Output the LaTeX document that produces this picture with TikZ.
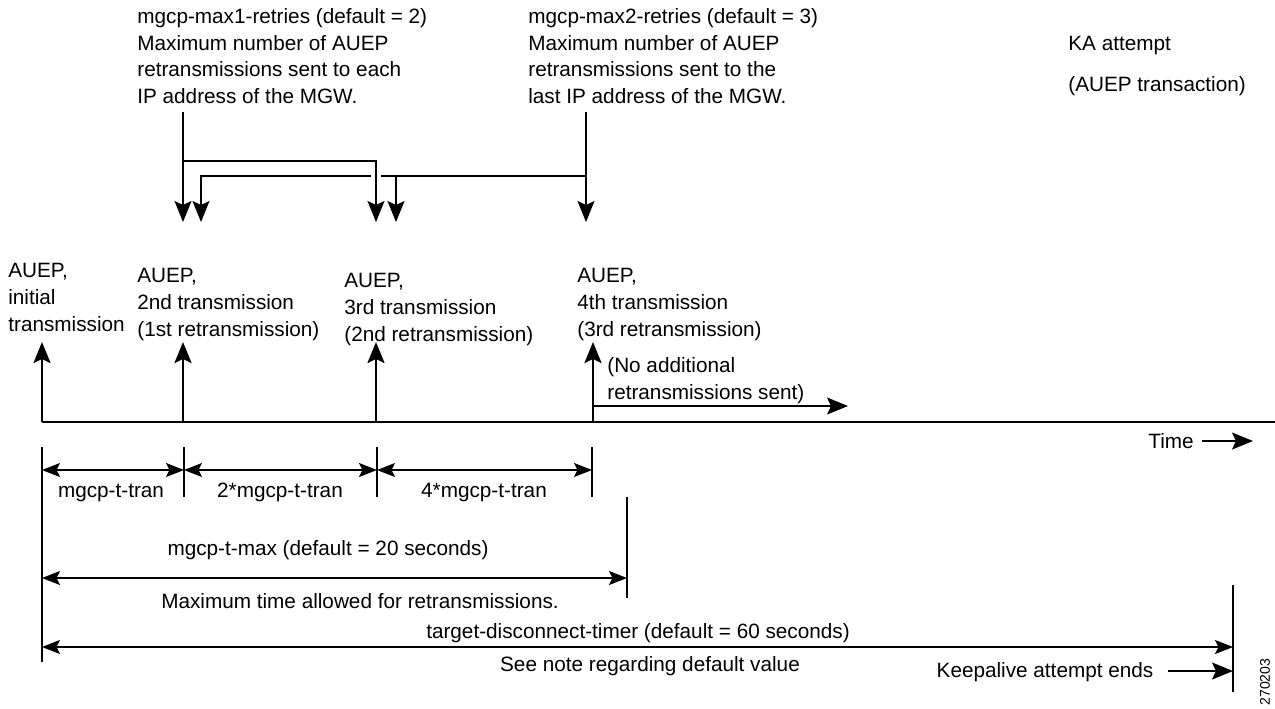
\documentclass[tikz,border=0pt]{standalone}
\usepackage{fontspec}
\setmainfont{Liberation Sans}
\usetikzlibrary{arrows.meta}

\begin{document}
\begin{tikzpicture}[x=0.02cm,y=-0.02cm,
    txt/.style={font=\fontsize{11.8}{15.2}\selectfont,inner sep=0pt},
    blk/.style={txt,align=left,anchor=north west},
    lab/.style={txt,anchor=base},
    tip/.style={-{Stealth[length=0.42cm,width=0.34cm,inset=0.08cm]}},
    dim/.style={{Stealth[length=0.36cm,width=0.28cm,inset=0.07cm]}-{Stealth[length=0.36cm,width=0.28cm,inset=0.07cm]},line width=0.8pt},
    thk/.style={line width=1.3pt},
    thn/.style={line width=0.8pt}]
  \useasboundingbox (0,0) rectangle (1275,708);

  \node[blk] (max1) at (137,8) {mgcp-max1-retries (default = 2)\\Maximum number of AUEP\\retransmissions sent to each\\IP address of the MGW.};
  \node[blk] (max2) at (528,8) {mgcp-max2-retries (default = 3)\\Maximum number of AUEP\\retransmissions sent to the\\last IP address of the MGW.};
  \node[blk] (ka) at (1068,36) {KA attempt\\[8pt](AUEP transaction)};

  \coordinate (r1) at (183,112);
  \coordinate (r2) at (586,112);
  \coordinate (j1) at (183,161);
  \coordinate (k1) at (376,161);
  \coordinate (j2) at (586,176);
  \coordinate (g1) at (381,176);
  \coordinate (g2) at (371,176);
  \coordinate (k2) at (201,176);
  \coordinate (k3) at (396,176);
  \draw[thn,tip] (r1) -- (183,222);
  \draw[thn,tip] (j1) -- (k1) -- (376,222);
  \draw[thn,tip] (r2) -- (586,222);
  \draw[thn] (j2) -- (g1);
  \draw[thn,tip] (g2) -- (k2) -- (201,222);
  \draw[thn,tip] (k3) -- (396,222);

  \node[blk] (tr1) at (8,263) {AUEP,\\initial\\transmission};
  \node[blk] (tr2) at (137,268) {AUEP,\\2nd transmission\\(1st retransmission)};
  \node[blk] (tr3) at (344,273) {AUEP,\\3rd transmission\\(2nd retransmission)};
  \node[blk] (tr4) at (577,268) {AUEP,\\4th transmission\\(3rd retransmission)};
  \node[blk] (noadd) at (607,357) {(No additional\\retransmissions sent)};

  \coordinate (t0) at (42,422);
  \coordinate (tend) at (1275,422);
  \draw[thk] (t0) -- (tend);
  \foreach \x/\n in {42/a,183/b,376/c,593/d} {
    \coordinate (base\n) at (\x,422);
    \coordinate (top\n) at (\x,342);
    \draw[thk,tip] (base\n) -- (top\n);
  }
  \coordinate (s0) at (593,406);
  \coordinate (s1) at (848,406);
  \draw[thn,tip] (s0) -- (s1);

  \node[lab] (time) at (1171,448) {Time};
  \coordinate (ti0) at (1202,441);
  \coordinate (ti1) at (1253,441);
  \draw[thn,tip] (ti0) -- (ti1);

  \draw[thn] (42,447) -- (42,662);
  \foreach \x/\n in {184/b,377/c,592/d} {
    \draw[thn] (\x,447) coordinate (tk\n) -- (\x,497);
  }
  \coordinate (tka) at (42,470);
  \draw[dim] (tka) -- (184,470);
  \draw[dim] (184,470) -- (377,470);
  \draw[dim] (377,470) -- (592,470);
  \node[lab] (tt1) at (111,497) {mgcp-t-tran};
  \node[lab] (tt2) at (280,497) {2*mgcp-t-tran};
  \node[lab] (tt4) at (484,497) {4*mgcp-t-tran};

  \coordinate (mx0) at (42,578);
  \coordinate (mx1) at (627,578);
  \draw[thn] (627,497) -- (627,598);
  \draw[dim] (mx0) -- (mx1);
  \node[lab] (tmax) at (328,555) {mgcp-t-max (default = 20 seconds)};
  \node[lab] (tmaxb) at (360,608) {Maximum time allowed for retransmissions.};

  \coordinate (dc0) at (42,647);
  \coordinate (dc1) at (1233,647);
  \draw[thn] (1233,585) -- (1233,692);
  \draw[dim] (dc0) -- (dc1);
  \node[lab] (tdt) at (638,638) {target-disconnect-timer (default = 60 seconds)};
  \node[lab] (note) at (650,671) {See note regarding default value};
  \node[lab] (kae) at (1045,677) {Keepalive attempt ends};
  \coordinate (ke0) at (1168,671);
  \coordinate (ke1) at (1233,671);
  \draw[thn,tip] (ke0) -- (ke1);

  \node[txt,font=\fontsize{8}{9}\selectfont,rotate=90] (fig) at (1265,682) {270203};
\end{tikzpicture}
\end{document}
